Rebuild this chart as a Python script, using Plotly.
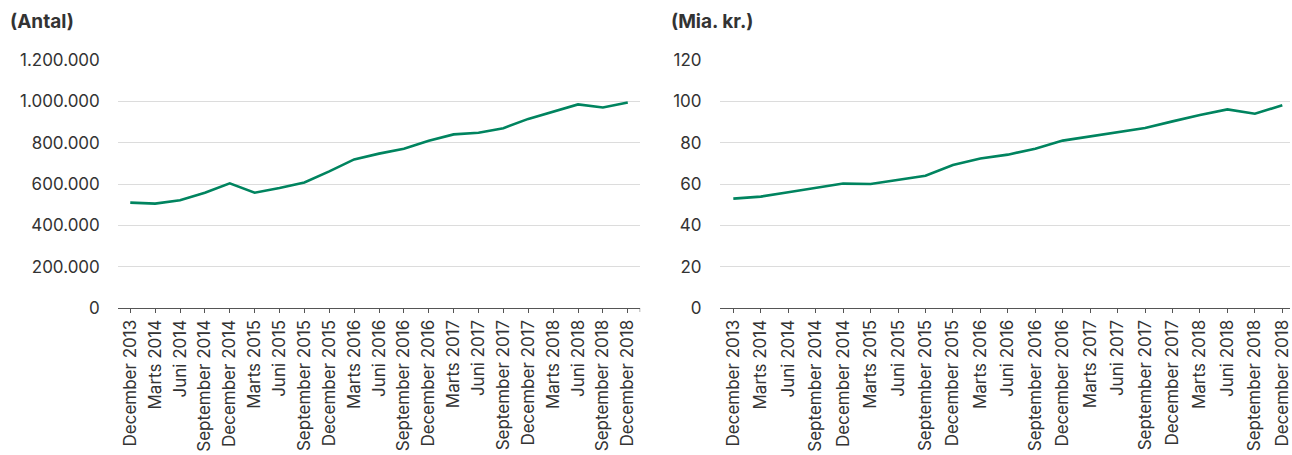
import plotly.graph_objects as go

# Quarterly periods shown on both panels
periods = [
    "December 2013", "Marts 2014", "Juni 2014", "September 2014", "December 2014",
    "Marts 2015", "Juni 2015", "September 2015", "December 2015",
    "Marts 2016", "Juni 2016", "September 2016", "December 2016",
    "Marts 2017", "Juni 2017", "September 2017", "December 2017",
    "Marts 2018", "Juni 2018", "September 2018", "December 2018",
]

# Number of (Antal)
antal = [
    510000, 505000, 521000, 558000, 603000,
    558000, 581000, 607000, 661000,
    719000, 747000, 771000, 809000,
    840000, 848000, 870000, 915000,
    949000, 985000, 970000, 994000,
]

# Amount (Mia. kr.)
mia_kr = [
    52.9, 53.9, 56.0, 58.1, 60.2,
    60.0, 62.0, 64.0, 69.2,
    72.3, 74.2, 77.1, 81.0,
    83.0, 85.2, 87.1, 90.3,
    93.4, 96.1, 94.0, 98.1,
]

left_tickvals = [0, 200000, 400000, 600000, 800000, 1000000, 1200000]
left_ticktext = ["0", "200.000", "400.000", "600.000", "800.000", "1.000.000", "1.200.000"]
right_tickvals = [0, 20, 40, 60, 80, 100, 120]
right_ticktext = ["0", "20", "40", "60", "80", "100", "120"]

W, H = 1292, 455
FONT = "Inter"
TEXT = "#333333"
GRID = "#dcdcdc"
AXIS = "#555555"
GREEN = "#00845f"

fig = go.Figure()
fig.add_trace(go.Scatter(x=list(range(len(periods))), y=antal, mode="lines",
                         line=dict(color=GREEN, width=2.6), xaxis="x", yaxis="y",
                         showlegend=False))
fig.add_trace(go.Scatter(x=list(range(len(periods))), y=mia_kr, mode="lines",
                         line=dict(color=GREEN, width=2.6), xaxis="x2", yaxis="y2",
                         showlegend=False))

xcommon = dict(
    tickmode="array", tickvals=list(range(len(periods))), ticktext=periods,
    tickangle=-90, ticks="outside", ticklen=4, tickcolor=AXIS, tickwidth=1,
    showline=True, linecolor=AXIS, linewidth=1, showgrid=False, zeroline=False,
    ticklabeloverflow="allow",
    tickfont=dict(family=FONT, size=17, color=TEXT), fixedrange=True,
)
ycommon = dict(
    tickmode="array", showgrid=True, gridcolor=GRID, gridwidth=1,
    zeroline=False, showline=False, ticks="", ticklabelstandoff=17,
    tickfont=dict(family=FONT, size=17, color=TEXT), fixedrange=True,
)

fig.update_layout(
    width=W, height=H,
    margin=dict(l=0, r=0, t=60, b=147),
    paper_bgcolor="white", plot_bgcolor="white",
    xaxis=dict(domain=[118 / W, 641.2 / W], range=[-0.5, 20.5], anchor="y", **xcommon),
    yaxis=dict(domain=[0, 1], range=[0, 1200000], anchor="x",
               tickvals=left_tickvals, ticktext=left_ticktext, **ycommon),
    xaxis2=dict(domain=[720.7 / W, 1.0], range=[-0.5, 20.28], anchor="y2", **xcommon),
    yaxis2=dict(domain=[0, 1], range=[0, 120], anchor="x2",
                tickvals=right_tickvals, ticktext=right_ticktext, **ycommon),
    annotations=[
        dict(text="<b>(Antal)</b>", xref="paper", yref="paper", x=8 / W, y=1 + 38 / 248,
             xanchor="left", yanchor="middle", showarrow=False,
             font=dict(family=FONT, size=19, color=TEXT)),
        dict(text="<b>(Mia. kr.)</b>", xref="paper", yref="paper", x=670 / W, y=1 + 38 / 248,
             xanchor="left", yanchor="middle", showarrow=False,
             font=dict(family=FONT, size=19, color=TEXT)),
    ],
    shapes=[
        # closing tick at the right end of the left axis
        dict(type="line", xref="x", yref="y domain", x0=20.5, x1=20.5, y0=0, y1=-4 / 248,
             line=dict(color=AXIS, width=1)),
    ],
)

fig.write_html("out.html")
